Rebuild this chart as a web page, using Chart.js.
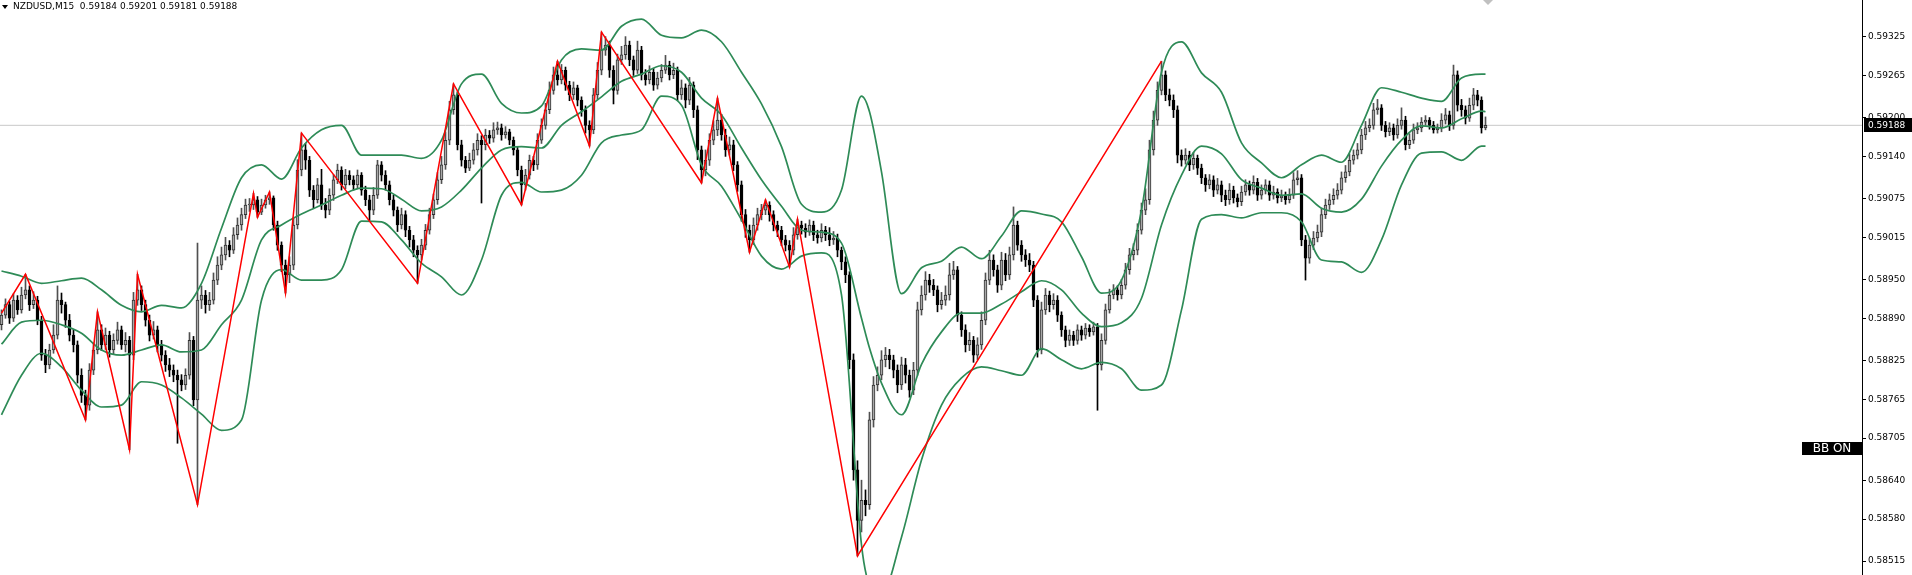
<!DOCTYPE html>
<html><head><meta charset="utf-8">
<script src="https://cdn.jsdelivr.net/npm/chart.js@4.4.1/dist/chart.umd.min.js"></script>
<style>html,body{margin:0;padding:0;background:#fff;overflow:hidden}canvas{display:block}</style>
</head><body>
<canvas id="c" width="1912" height="575" style="width:1912px;height:575px"></canvas>
<script>
const symbol = 'NZDUSD,M15';
const lastPrice = 0.59188;
const yTicks = [0.59325,0.59265,0.59200,0.59140,0.59075,0.59015,0.58950,0.58890,0.58825,0.58765,0.58705,0.58640,0.58580,0.58515];

const open = [
0.58880,0.58895,0.58911,0.58890,0.58918,0.58903,0.58926,0.58934,0.58911,0.58918,
0.58887,0.58833,0.58818,0.58841,0.58864,0.58918,0.58911,0.58887,0.58864,0.58849,
0.58802,0.58771,0.58756,0.58810,0.58841,0.58872,0.58849,0.58864,0.58841,0.58856,
0.58872,0.58849,0.58856,0.58833,0.58918,0.58934,0.58911,0.58887,0.58864,0.58872,
0.58849,0.58833,0.58818,0.58810,0.58802,0.58795,0.58787,0.58802,0.58856,0.58764,
0.58918,0.58926,0.58911,0.58918,0.58949,0.58972,0.58988,0.59003,0.58995,0.59019,
0.59034,0.59050,0.59065,0.59065,0.59073,0.59054,0.59065,0.59073,0.59076,0.59034,
0.59003,0.58972,0.58957,0.58972,0.59034,0.59119,0.59150,0.59134,0.59088,0.59073,
0.59096,0.59065,0.59057,0.59080,0.59104,0.59119,0.59096,0.59111,0.59104,0.59096,
0.59111,0.59088,0.59073,0.59057,0.59080,0.59127,0.59111,0.59096,0.59073,0.59057,
0.59034,0.59050,0.59026,0.59011,0.58995,0.58988,0.59003,0.59026,0.59050,0.59073,
0.59104,0.59127,0.59165,0.59212,0.59235,0.59158,0.59134,0.59122,0.59134,0.59150,
0.59165,0.59158,0.59173,0.59168,0.59181,0.59184,0.59173,0.59178,0.59165,0.59150,
0.59119,0.59096,0.59111,0.59134,0.59127,0.59165,0.59188,0.59212,0.59242,0.59266,
0.59258,0.59273,0.59250,0.59235,0.59246,0.59227,0.59212,0.59188,0.59181,0.59235,
0.59273,0.59304,0.59312,0.59273,0.59242,0.59289,0.59297,0.59312,0.59289,0.59273,
0.59304,0.59266,0.59258,0.59270,0.59250,0.59261,0.59273,0.59281,0.59266,0.59273,
0.59235,0.59246,0.59227,0.59250,0.59212,0.59150,0.59119,0.59134,0.59165,0.59181,
0.59196,0.59173,0.59150,0.59158,0.59127,0.59096,0.59050,0.59026,0.59011,0.59034,
0.59050,0.59057,0.59065,0.59050,0.59034,0.59026,0.59011,0.59003,0.58995,0.59019,
0.59034,0.59029,0.59023,0.59034,0.59019,0.59014,0.59026,0.59019,0.59011,0.59014,
0.58995,0.58977,0.58957,0.58826,0.58656,0.58578,0.58609,0.58602,0.58733,0.58787,
0.58802,0.58826,0.58833,0.58826,0.58810,0.58787,0.58818,0.58802,0.58779,0.58810,
0.58903,0.58926,0.58949,0.58941,0.58934,0.58911,0.58918,0.58926,0.58957,0.58965,
0.58895,0.58872,0.58849,0.58856,0.58833,0.58849,0.58887,0.58949,0.58980,0.58965,
0.58941,0.58980,0.58957,0.58988,0.59034,0.59003,0.58988,0.58980,0.58972,0.58918,
0.58841,0.58903,0.58926,0.58911,0.58918,0.58895,0.58872,0.58856,0.58864,0.58856,
0.58872,0.58864,0.58875,0.58869,0.58877,0.58818,0.58856,0.58903,0.58926,0.58934,
0.58926,0.58941,0.58965,0.58988,0.58995,0.59026,0.59057,0.59073,0.59150,0.59196,
0.59242,0.59266,0.59235,0.59227,0.59212,0.59142,0.59134,0.59142,0.59127,0.59137,
0.59122,0.59107,0.59096,0.59104,0.59088,0.59096,0.59080,0.59073,0.59088,0.59076,
0.59070,0.59085,0.59096,0.59088,0.59100,0.59080,0.59088,0.59096,0.59080,0.59085,
0.59076,0.59079,0.59073,0.59080,0.59104,0.59107,0.59011,0.58983,0.59003,0.59014,
0.59023,0.59050,0.59065,0.59073,0.59080,0.59088,0.59107,0.59116,0.59134,0.59142,
0.59150,0.59173,0.59184,0.59188,0.59212,0.59215,0.59188,0.59178,0.59184,0.59173,
0.59188,0.59196,0.59158,0.59165,0.59181,0.59184,0.59193,0.59196,0.59188,0.59181,
0.59184,0.59196,0.59204,0.59188,0.59266,0.59219,0.59212,0.59199,0.59219,0.59235,
0.59227,0.59184];

const high = [
0.58903,0.58920,0.58916,0.58928,0.58925,0.58938,0.58958,0.58940,0.58931,0.58924,
0.58893,0.58842,0.58850,0.58880,0.58940,0.58929,0.58915,0.58896,0.58872,0.58855,
0.58812,0.58779,0.58820,0.58852,0.58900,0.58880,0.58875,0.58870,0.58866,0.58884,
0.58878,0.58868,0.58862,0.58930,0.58958,0.58940,0.58918,0.58895,0.58885,0.58878,
0.58856,0.58840,0.58828,0.58818,0.58810,0.58803,0.58812,0.58868,0.58862,0.59006,
0.58940,0.58933,0.58930,0.58960,0.58985,0.59000,0.59015,0.59010,0.59030,0.59045,
0.59060,0.59074,0.59075,0.59083,0.59078,0.59074,0.59080,0.59085,0.59079,0.59040,
0.59008,0.58980,0.58985,0.59045,0.59135,0.59176,0.59160,0.59140,0.59095,0.59106,
0.59120,0.59075,0.59090,0.59112,0.59128,0.59124,0.59120,0.59118,0.59110,0.59119,
0.59115,0.59094,0.59080,0.59092,0.59134,0.59132,0.59118,0.59102,0.59080,0.59062,
0.59060,0.59056,0.59032,0.59018,0.59002,0.59012,0.59035,0.59060,0.59082,0.59115,
0.59140,0.59178,0.59225,0.59252,0.59240,0.59165,0.59140,0.59145,0.59160,0.59175,
0.59172,0.59182,0.59180,0.59192,0.59193,0.59190,0.59186,0.59182,0.59170,0.59155,
0.59125,0.59120,0.59142,0.59140,0.59175,0.59198,0.59222,0.59255,0.59278,0.59287,
0.59282,0.59278,0.59256,0.59255,0.59250,0.59232,0.59218,0.59195,0.59245,0.59285,
0.59332,0.59325,0.59318,0.59280,0.59298,0.59310,0.59325,0.59318,0.59295,0.59318,
0.59310,0.59274,0.59280,0.59276,0.59270,0.59282,0.59296,0.59287,0.59284,0.59278,
0.59258,0.59252,0.59262,0.59255,0.59218,0.59156,0.59150,0.59175,0.59195,0.59230,
0.59205,0.59182,0.59170,0.59165,0.59132,0.59102,0.59058,0.59034,0.59045,0.59060,
0.59066,0.59073,0.59070,0.59056,0.59040,0.59032,0.59018,0.59010,0.59030,0.59043,
0.59040,0.59036,0.59042,0.59040,0.59026,0.59036,0.59032,0.59030,0.59024,0.59020,
0.59000,0.58985,0.58962,0.58835,0.58670,0.58640,0.58625,0.58745,0.58800,0.58815,
0.58840,0.58845,0.58842,0.58833,0.58818,0.58830,0.58828,0.58810,0.58822,0.58915,
0.58940,0.58962,0.58958,0.58950,0.58940,0.58930,0.58940,0.58975,0.58978,0.58970,
0.58900,0.58880,0.58868,0.58862,0.58860,0.58900,0.58960,0.58995,0.58988,0.58972,
0.58992,0.58990,0.59000,0.59062,0.59040,0.59010,0.58996,0.58990,0.58978,0.58925,
0.58915,0.58936,0.58932,0.58928,0.58925,0.58900,0.58878,0.58872,0.58870,0.58880,
0.58878,0.58882,0.58880,0.58884,0.58882,0.58866,0.58912,0.58935,0.58942,0.58940,
0.58950,0.58975,0.58998,0.59005,0.59036,0.59068,0.59090,0.59165,0.59210,0.59255,
0.59287,0.59272,0.59244,0.59235,0.59218,0.59150,0.59152,0.59148,0.59146,0.59142,
0.59128,0.59112,0.59112,0.59110,0.59106,0.59102,0.59088,0.59098,0.59094,0.59082,
0.59094,0.59104,0.59102,0.59110,0.59106,0.59096,0.59104,0.59102,0.59094,0.59090,
0.59088,0.59085,0.59090,0.59115,0.59118,0.59112,0.59018,0.59014,0.59024,0.59034,
0.59060,0.59074,0.59082,0.59090,0.59098,0.59116,0.59126,0.59144,0.59150,0.59160,
0.59182,0.59194,0.59198,0.59222,0.59228,0.59220,0.59194,0.59192,0.59190,0.59198,
0.59215,0.59202,0.59175,0.59190,0.59192,0.59200,0.59203,0.59200,0.59194,0.59190,
0.59206,0.59214,0.59210,0.59281,0.59272,0.59228,0.59218,0.59230,0.59245,0.59242,
0.59232,0.59201];

const low = [
0.58872,0.58890,0.58882,0.58885,0.58896,0.58898,0.58920,0.58902,0.58905,0.58880,
0.58825,0.58806,0.58812,0.58836,0.58858,0.58898,0.58876,0.58855,0.58838,0.58790,
0.58760,0.58733,0.58748,0.58803,0.58835,0.58840,0.58842,0.58830,0.58834,0.58850,
0.58842,0.58838,0.58687,0.58826,0.58910,0.58902,0.58878,0.58855,0.58858,0.58838,
0.58824,0.58808,0.58800,0.58792,0.58697,0.58778,0.58780,0.58796,0.58755,0.58602,
0.58905,0.58898,0.58902,0.58912,0.58942,0.58965,0.58980,0.58985,0.58990,0.59012,
0.59026,0.59044,0.59055,0.59058,0.59046,0.59050,0.59060,0.59066,0.59026,0.58995,
0.58962,0.58929,0.58945,0.58965,0.59028,0.59110,0.59120,0.59078,0.59060,0.59068,
0.59058,0.59045,0.59050,0.59072,0.59098,0.59088,0.59090,0.59096,0.59088,0.59090,
0.59080,0.59064,0.59040,0.59050,0.59075,0.59102,0.59088,0.59065,0.59048,0.59024,
0.59028,0.59016,0.59000,0.58985,0.58944,0.58980,0.58996,0.59020,0.59044,0.59066,
0.59098,0.59120,0.59158,0.59205,0.59150,0.59125,0.59115,0.59118,0.59128,0.59142,
0.59068,0.59150,0.59160,0.59162,0.59174,0.59165,0.59168,0.59158,0.59142,0.59110,
0.59065,0.59088,0.59105,0.59118,0.59120,0.59160,0.59182,0.59206,0.59236,0.59250,
0.59252,0.59242,0.59226,0.59228,0.59218,0.59202,0.59176,0.59156,0.59175,0.59228,
0.59266,0.59296,0.59262,0.59221,0.59236,0.59282,0.59290,0.59280,0.59265,0.59268,
0.59258,0.59250,0.59252,0.59242,0.59244,0.59255,0.59268,0.59258,0.59260,0.59226,
0.59228,0.59215,0.59220,0.59200,0.59135,0.59099,0.59110,0.59126,0.59158,0.59172,
0.59165,0.59140,0.59142,0.59118,0.59086,0.59040,0.59015,0.58992,0.59004,0.59026,
0.59042,0.59050,0.59040,0.59025,0.59016,0.59002,0.58994,0.58969,0.58988,0.59012,
0.59020,0.59015,0.59018,0.59010,0.59006,0.59008,0.59010,0.59002,0.59004,0.58985,
0.58965,0.58945,0.58812,0.58640,0.58523,0.58560,0.58585,0.58595,0.58722,0.58778,
0.58795,0.58815,0.58812,0.58798,0.58775,0.58780,0.58790,0.58768,0.58772,0.58802,
0.58895,0.58918,0.58930,0.58925,0.58900,0.58904,0.58910,0.58918,0.58950,0.58885,
0.58862,0.58838,0.58840,0.58822,0.58826,0.58842,0.58880,0.58942,0.58955,0.58930,
0.58934,0.58948,0.58950,0.58980,0.58995,0.58978,0.58970,0.58962,0.58908,0.58830,
0.58835,0.58896,0.58900,0.58904,0.58885,0.58862,0.58846,0.58848,0.58848,0.58850,
0.58856,0.58858,0.58862,0.58864,0.58748,0.58810,0.58850,0.58898,0.58920,0.58918,
0.58920,0.58935,0.58958,0.58980,0.58988,0.59020,0.59050,0.59066,0.59142,0.59188,
0.59235,0.59226,0.59218,0.59200,0.59130,0.59125,0.59128,0.59118,0.59120,0.59112,
0.59098,0.59086,0.59090,0.59078,0.59082,0.59070,0.59064,0.59066,0.59068,0.59062,
0.59064,0.59080,0.59080,0.59082,0.59072,0.59074,0.59082,0.59072,0.59074,0.59068,
0.59070,0.59066,0.59068,0.59075,0.59096,0.59002,0.58949,0.58975,0.58996,0.59008,
0.59016,0.59044,0.59058,0.59066,0.59074,0.59082,0.59100,0.59110,0.59128,0.59136,
0.59144,0.59166,0.59178,0.59182,0.59205,0.59180,0.59170,0.59172,0.59165,0.59168,
0.59182,0.59150,0.59152,0.59160,0.59175,0.59178,0.59188,0.59182,0.59176,0.59176,
0.59178,0.59190,0.59180,0.59182,0.59210,0.59202,0.59190,0.59194,0.59212,0.59218,
0.59176,0.59181];

const close = [
0.58895,0.58911,0.58890,0.58918,0.58903,0.58926,0.58934,0.58911,0.58918,0.58887,
0.58833,0.58818,0.58841,0.58864,0.58918,0.58911,0.58887,0.58864,0.58849,0.58802,
0.58771,0.58756,0.58810,0.58841,0.58872,0.58849,0.58864,0.58841,0.58856,0.58872,
0.58849,0.58856,0.58833,0.58918,0.58934,0.58911,0.58887,0.58864,0.58872,0.58849,
0.58833,0.58818,0.58810,0.58802,0.58795,0.58787,0.58802,0.58856,0.58764,0.58918,
0.58926,0.58911,0.58918,0.58949,0.58972,0.58988,0.59003,0.58995,0.59019,0.59034,
0.59050,0.59065,0.59065,0.59073,0.59054,0.59065,0.59073,0.59076,0.59034,0.59003,
0.58972,0.58957,0.58972,0.59034,0.59119,0.59150,0.59134,0.59088,0.59073,0.59096,
0.59065,0.59057,0.59080,0.59104,0.59119,0.59096,0.59111,0.59104,0.59096,0.59111,
0.59088,0.59073,0.59057,0.59080,0.59127,0.59111,0.59096,0.59073,0.59057,0.59034,
0.59050,0.59026,0.59011,0.58995,0.58988,0.59003,0.59026,0.59050,0.59073,0.59104,
0.59127,0.59165,0.59212,0.59235,0.59158,0.59134,0.59122,0.59134,0.59150,0.59165,
0.59158,0.59173,0.59168,0.59181,0.59184,0.59173,0.59178,0.59165,0.59150,0.59119,
0.59096,0.59111,0.59134,0.59127,0.59165,0.59188,0.59212,0.59242,0.59266,0.59258,
0.59273,0.59250,0.59235,0.59246,0.59227,0.59212,0.59188,0.59181,0.59235,0.59273,
0.59304,0.59312,0.59273,0.59242,0.59289,0.59297,0.59312,0.59289,0.59273,0.59304,
0.59266,0.59258,0.59270,0.59250,0.59261,0.59273,0.59281,0.59266,0.59273,0.59235,
0.59246,0.59227,0.59250,0.59212,0.59150,0.59119,0.59134,0.59165,0.59181,0.59196,
0.59173,0.59150,0.59158,0.59127,0.59096,0.59050,0.59026,0.59011,0.59034,0.59050,
0.59057,0.59065,0.59050,0.59034,0.59026,0.59011,0.59003,0.58995,0.59019,0.59034,
0.59029,0.59023,0.59034,0.59019,0.59014,0.59026,0.59019,0.59011,0.59014,0.58995,
0.58977,0.58957,0.58826,0.58656,0.58578,0.58609,0.58602,0.58733,0.58787,0.58802,
0.58826,0.58833,0.58826,0.58810,0.58787,0.58818,0.58802,0.58779,0.58810,0.58903,
0.58926,0.58949,0.58941,0.58934,0.58911,0.58918,0.58926,0.58957,0.58965,0.58895,
0.58872,0.58849,0.58856,0.58833,0.58849,0.58887,0.58949,0.58980,0.58965,0.58941,
0.58980,0.58957,0.58988,0.59034,0.59003,0.58988,0.58980,0.58972,0.58918,0.58841,
0.58903,0.58926,0.58911,0.58918,0.58895,0.58872,0.58856,0.58864,0.58856,0.58872,
0.58864,0.58875,0.58869,0.58877,0.58818,0.58856,0.58903,0.58926,0.58934,0.58926,
0.58941,0.58965,0.58988,0.58995,0.59026,0.59057,0.59073,0.59150,0.59196,0.59242,
0.59266,0.59235,0.59227,0.59212,0.59142,0.59134,0.59142,0.59127,0.59137,0.59122,
0.59107,0.59096,0.59104,0.59088,0.59096,0.59080,0.59073,0.59088,0.59076,0.59070,
0.59085,0.59096,0.59088,0.59100,0.59080,0.59088,0.59096,0.59080,0.59085,0.59076,
0.59079,0.59073,0.59080,0.59104,0.59107,0.59011,0.58983,0.59003,0.59014,0.59023,
0.59050,0.59065,0.59073,0.59080,0.59088,0.59107,0.59116,0.59134,0.59142,0.59150,
0.59173,0.59184,0.59188,0.59212,0.59215,0.59188,0.59178,0.59184,0.59173,0.59188,
0.59196,0.59158,0.59165,0.59181,0.59184,0.59193,0.59196,0.59188,0.59181,0.59184,
0.59196,0.59204,0.59188,0.59266,0.59219,0.59212,0.59199,0.59219,0.59235,0.59227,
0.59184,0.59188];

const bandIdx = [0,5,10,15,20,25,30,35,40,45,50,55,60,65,70,75,80,85,90,95,100,105,110,115,120,125,130,135,140,145,150,155,160,165,170,175,180,185,190,195,200,205,210,215,217,220,225,230,235,240,245,250,255,260,265,270,275,280,285,290,295,300,305,310,315,320,325,330,335,340,345,350,355,360,365,370,371];
const bbUpper = [
0.58963,0.58955,0.58944,0.58948,0.58952,0.58934,0.58910,0.58900,0.58910,0.58906,
0.58944,0.59029,0.59107,0.59127,0.59105,0.59153,0.59181,0.59188,0.59142,0.59142,
0.59142,0.59137,0.59165,0.59252,0.59267,0.59222,0.59207,0.59218,0.59289,0.59306,
0.59304,0.59341,0.59352,0.59327,0.59323,0.59335,0.59317,0.59270,0.59221,0.59155,
0.59066,0.59054,0.59088,0.59233,0.59209,
0.59116,0.58928,0.58968,0.58978,0.59000,0.58982,0.59017,0.59056,0.59051,0.59039,
0.58985,0.58929,0.58949,0.59057,0.59270,0.59317,0.59269,0.59239,0.59161,0.59130,
0.59107,0.59127,0.59142,0.59131,0.59188,0.59246,0.59239,0.59230,0.59225,0.59261,
0.59267,0.59267];
const bbMiddle = [
0.58850,0.58884,0.58887,0.58880,0.58867,0.58841,0.58833,0.58841,0.58849,0.58838,
0.58841,0.58880,0.58918,0.59011,0.59034,0.59051,0.59065,0.59080,0.59091,0.59090,
0.59074,0.59056,0.59062,0.59088,0.59122,0.59150,0.59155,0.59153,0.59188,0.59209,
0.59232,0.59256,0.59267,0.59280,0.59270,0.59230,0.59204,0.59153,0.59104,0.59063,
0.59026,0.59023,0.59006,0.58890,0.58844,
0.58790,0.58741,0.58819,0.58869,0.58898,0.58898,0.58912,0.58931,0.58948,0.58934,
0.58898,0.58877,0.58883,0.58921,0.59034,0.59111,0.59156,0.59144,0.59104,0.59091,
0.59080,0.59082,0.59060,0.59054,0.59074,0.59125,0.59165,0.59187,0.59184,0.59198,
0.59210,0.59209];
const bbLower = [
0.58741,0.58802,0.58836,0.58815,0.58779,0.58753,0.58756,0.58792,0.58787,0.58767,
0.58742,0.58717,0.58733,0.58918,0.58965,0.58949,0.58949,0.58965,0.59040,0.59039,
0.59011,0.58975,0.58954,0.58926,0.58980,0.59080,0.59100,0.59085,0.59088,0.59111,
0.59161,0.59173,0.59181,0.59233,0.59219,0.59127,0.59094,0.59042,0.58986,0.58966,
0.58986,0.58991,0.58926,0.58540,0.58478,
0.58464,0.58552,0.58671,0.58756,0.58798,0.58815,0.58809,0.58802,0.58843,0.58826,
0.58812,0.58822,0.58812,0.58779,0.58787,0.58903,0.59043,0.59050,0.59045,0.59053,
0.59053,0.59039,0.58980,0.58977,0.58961,0.59011,0.59096,0.59145,0.59147,0.59134,
0.59156,0.59156];

const zzIdx = [0,6,21,24,32,34,49,63,64,67,71,75,104,113,130,139,147,150,175,179,187,191,197,199,214,290];
const zzPrice = [0.58898,0.58958,0.58733,0.58900,0.58687,0.58958,0.58602,0.59083,0.59046,0.59085,0.58929,0.59176,0.58944,0.59252,0.59065,0.59287,0.59156,0.59332,0.59099,0.59230,0.58992,0.59073,0.58969,0.59043,0.58523,0.59287];

// ---- layout constants (not data) ----
const X_MIN = -0.375, X_MAX = 465.125;
const Y_MIN = 0.5849357, Y_MAX = 0.5938152;
const FONT = 'DejaVu Sans';

const bull = close.map((c, i) => c >= open[i]);
const wickData = close.map((c, i) => ({x: i, y: [low[i], high[i]]}));
const bodyData = close.map((c, i) => ({x: i, y: [open[i], c]}));
const band = arr => bandIdx.map((x, j) => ({x, y: arr[j]}));

const overlay = {
  id: 'overlay',
  afterDraw(chart) {
    const ctx = chart.ctx, ys = chart.scales.y;
    ctx.save();
    ctx.fillStyle = '#000';
    ctx.beginPath(); ctx.moveTo(2, 5); ctx.lineTo(8, 5); ctx.lineTo(5, 9); ctx.closePath(); ctx.fill();
    ctx.font = '9px "' + FONT + '"';
    ctx.textBaseline = 'middle'; ctx.textAlign = 'left';
    const n = close.length - 1;
    const f = v => v.toFixed(5);
    ctx.fillText(symbol + '  ' + f(open[n]) + ' ' + f(high[n]) + ' ' + f(low[n]) + ' ' + f(close[n]), 13, 7);
    const py = Math.round(ys.getPixelForValue(lastPrice));
    ctx.fillStyle = '#000';
    ctx.fillRect(1864, py - 7, 48, 14);
    ctx.fillStyle = '#fff';
    ctx.fillText(f(lastPrice), 1868, py + 0.5);
    ctx.fillStyle = '#000';
    ctx.fillRect(1802, 442, 60, 13);
    ctx.fillStyle = '#fff';
    ctx.font = '12px "' + FONT + '"';
    ctx.textAlign = 'center';
    ctx.fillText('BB ON', 1832, 449);
    ctx.fillStyle = '#c0c0c0';
    ctx.beginPath(); ctx.moveTo(1483, 0); ctx.lineTo(1493, 0); ctx.lineTo(1488, 5); ctx.closePath(); ctx.fill();
    ctx.restore();
  }
};

new Chart(document.getElementById('c'), {
  type: 'bar',
  data: {
    datasets: [
      {type: 'line', data: [{x: X_MIN, y: lastPrice}, {x: X_MAX, y: lastPrice}], borderColor: '#c8c8c8', borderWidth: 1, pointRadius: 0, order: 10},
      {type: 'bar', data: wickData, backgroundColor: close.map((c, i) => bull[i] ? '#505050' : '#000'), barThickness: 1, grouped: false, order: 6},
      {type: 'bar', data: bodyData, backgroundColor: close.map((c, i) => bull[i] ? '#a8a8a8' : '#000'), borderColor: close.map((c, i) => bull[i] ? '#303030' : '#000'), borderWidth: 1, borderSkipped: false, barThickness: 3, minBarLength: 1, grouped: false, order: 5},
      {type: 'line', data: band(bbUpper), borderColor: '#2e8b57', borderWidth: 1.7, pointRadius: 0, cubicInterpolationMode: 'monotone', order: 2},
      {type: 'line', data: band(bbMiddle), borderColor: '#2e8b57', borderWidth: 1.7, pointRadius: 0, cubicInterpolationMode: 'monotone', order: 2},
      {type: 'line', data: band(bbLower), borderColor: '#2e8b57', borderWidth: 1.7, pointRadius: 0, cubicInterpolationMode: 'monotone', order: 2},
      {type: 'line', data: zzIdx.map((x, j) => ({x, y: zzPrice[j]})), borderColor: '#ff0000', borderWidth: 1.5, pointRadius: 0, tension: 0, order: 1}
    ]
  },
  options: {
    responsive: false, animation: false, devicePixelRatio: 1,
    layout: {padding: 0},
    plugins: {legend: {display: false}, tooltip: {enabled: false}, title: {display: false}},
    scales: {
      x: {type: 'linear', min: X_MIN, max: X_MAX, offset: false, display: false, grid: {display: false}},
      y: {
        position: 'right', min: Y_MIN, max: Y_MAX,
        afterBuildTicks: s => { s.ticks = yTicks.map(v => ({value: v})); },
        afterFit: s => { s.width = 50; s.paddingTop = 0; s.paddingBottom = 0; },
        grid: {drawOnChartArea: false, drawTicks: true, tickLength: 4, tickColor: '#000', color: '#000'},
        border: {display: true, color: '#000', width: 1},
        ticks: {font: {family: FONT, size: 9}, color: '#000', padding: 2, autoSkip: false, callback: v => v.toFixed(5)}
      }
    }
  },
  plugins: [overlay]
});
</script>
</body></html>
